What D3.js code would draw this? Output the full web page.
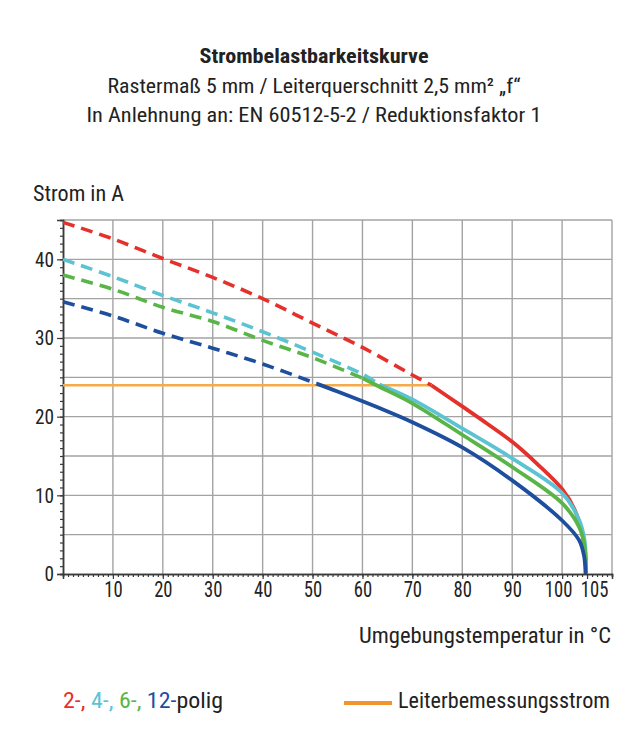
<!DOCTYPE html>
<html>
<head>
<meta charset="utf-8">
<script src="https://cdn.jsdelivr.net/npm/d3@7"></script>
<style>
  html, body { margin: 0; padding: 0; background: #fff; }
  svg { display: block; }
  text { font-family: "Liberation Sans Narrow", "Roboto Condensed", Roboto, "DejaVu Sans", sans-serif; fill: #222; }
</style>
</head>
<body>
<svg id="chart" width="642" height="754"></svg>
<script>
// ---- data ----
const titleLines = ["Strombelastbarkeitskurve",
  "Rastermaß 5 mm / Leiterquerschnitt 2,5 mm² „f“",
  "In Anlehnung an: EN 60512-5-2 / Reduktionsfaktor 1"];
const yLabel = "Strom in A";
const xLabel = "Umgebungstemperatur in °C";
const xTicks = [10, 20, 30, 40, 50, 60, 70, 80, 90, 100, 105];
const yTicks = [0, 10, 20, 30, 40];
const xGrid = [10, 20, 30, 40, 50, 60, 70, 80, 90, 100, 110];
const yGrid = [5, 10, 15, 20, 25, 30, 35, 40, 45];

const seriesNames = ["2-", "4-", "6-", "12-"];
const seriesColors = ["#e5312c", "#5cc3d3", "#5ab548", "#1d4f9e"];

// 2-polig
const red2DashT  = [0, 10, 20, 30, 40, 50, 60, 70, 73.8];
const red2DashI  = [44.7, 42.6, 40.1, 37.7, 35.0, 31.9, 28.8, 25.3, 24.0];
const red2SolidT = [73.8, 80, 85, 90, 95, 100, 102.5, 104, 104.6, 104.8];
const red2SolidI = [24.0, 21.3, 19.1, 16.8, 14.0, 10.8, 8.2, 5.2, 2.5, 0];
// 4-polig
const cyan4DashT  = [0, 10, 20, 30, 40, 50, 60, 63.4];
const cyan4DashI  = [40.0, 37.8, 35.4, 33.2, 30.8, 28.2, 25.4, 24.1];
const cyan4SolidT = [63.4, 70, 80, 90, 100, 103.4, 104.5, 104.8];
const cyan4SolidI = [24.1, 22.2, 18.5, 14.7, 10.3, 6.9, 4.3, 0];
// 6-polig
const green6DashT  = [0, 10, 20, 30, 40, 50, 60];
const green6DashI  = [38.0, 36.2, 33.9, 32.1, 29.7, 27.5, 24.9];
const green6SolidT = [60, 63.4, 70, 80, 90, 100, 103.4, 104.5, 104.8];
const green6SolidI = [24.9, 23.8, 21.7, 17.7, 13.6, 9.0, 6.0, 3.6, 0];
// 12-polig
const blue12DashT  = [0, 10, 20, 30, 40, 50.8];
const blue12DashI  = [34.6, 32.8, 30.6, 28.7, 26.7, 24.2];
const blue12SolidT = [50.8, 55, 63.4, 70, 80, 90, 100, 103.4, 104.4, 104.7];
const blue12SolidI = [24.2, 23.2, 21.1, 19.3, 16.1, 11.9, 6.8, 4.3, 2.3, 0];

// Leiterbemessungsstrom
const ratedT = [0, 73.8];
const ratedI = [24, 24];

const legendParts = ["2-,", " 4-,", " 6-,", " 12-", "polig"];
const legendRated = "Leiterbemessungsstrom";

// ---- chart ----
const svg = d3.select("#chart");
const x = d3.scaleLinear().domain([0, 110]).range([63, 612]);
const y = d3.scaleLinear().domain([0, 45]).range([574, 220]);

// titles
const titleY = [63, 93, 122];
const titleW = [229, 413, 455];
titleLines.forEach((t, i) => {
  svg.append("text").attr("x", 314).attr("y", titleY[i])
    .attr("text-anchor", "middle")
    .attr("font-size", 21)
    .attr("font-weight", i === 0 ? "bold" : "normal")
    .attr("textLength", titleW[i]).attr("lengthAdjust", "spacingAndGlyphs")
    .text(t);
});

// grid
const grid = svg.append("g").attr("stroke", "#a3a3a3").attr("stroke-width", 1.4);
grid.selectAll(".gx").data(xGrid).join("line")
  .attr("x1", d => x(d)).attr("x2", d => x(d)).attr("y1", y(0)).attr("y2", y(45));
grid.selectAll(".gy").data(yGrid).join("line")
  .attr("x1", x(0)).attr("x2", x(110)).attr("y1", d => y(d)).attr("y2", d => y(d));

// axes
const xMinor = svg.append("g").attr("transform", `translate(0,${y(0)})`)
  .call(d3.axisBottom(x).tickValues(d3.range(0, 111, 1)).tickSize(3).tickFormat(""));
const xMajor = svg.append("g").attr("transform", `translate(0,${y(0)})`)
  .call(d3.axisBottom(x).tickValues(xTicks).tickSize(5).tickPadding(0));
const yMinor = svg.append("g").attr("transform", `translate(${x(0)},0)`)
  .call(d3.axisLeft(y).tickValues(d3.range(0, 46, 1)).tickSize(3).tickFormat(""));
const yMajor = svg.append("g").attr("transform", `translate(${x(0)},0)`)
  .call(d3.axisLeft(y).tickValues(yTicks).tickSize(6).tickPadding(3));

[xMinor, xMajor, yMinor, yMajor].forEach(g => {
  g.select(".domain").attr("stroke", "#3a3a3a").attr("stroke-width", 1.5);
  g.selectAll(".tick line").attr("stroke", "#3a3a3a").attr("stroke-width", 1.2);
});
xMajor.selectAll(".tick text")
  .attr("font-size", 22).attr("fill", "#222").attr("dy", null).attr("y", 23)
  .attr("font-family", null)
  .attr("dx", d => d === 100 ? -4 : (d === 105 ? 7 : 0))
  .attr("textLength", d => String(d).length * 9.2)
  .attr("lengthAdjust", "spacingAndGlyphs");
yMajor.selectAll(".tick text")
  .attr("font-size", 21).attr("fill", "#222").attr("x", -9)
  .attr("font-family", null)
  .attr("textLength", d => String(d).length * 9.5)
  .attr("lengthAdjust", "spacingAndGlyphs");
svg.selectAll(".tick text").style("font-family", '"Liberation Sans Narrow", "Roboto Condensed", Roboto, sans-serif');

// axis labels
svg.append("text").attr("x", 33).attr("y", 201).attr("font-size", 22)
  .attr("textLength", 91).attr("lengthAdjust", "spacingAndGlyphs").text(yLabel);
svg.append("text").attr("x", 611).attr("y", 643).attr("font-size", 22)
  .attr("text-anchor", "end")
  .attr("textLength", 252).attr("lengthAdjust", "spacingAndGlyphs").text(xLabel);

// lines
const line = d3.line().x(d => x(d[0])).y(d => y(d[1])).curve(d3.curveCatmullRom.alpha(0.5));
const zip = (a, b) => a.map((v, i) => [v, b[i]]);

svg.append("path").datum(zip(ratedT, ratedI)).attr("d", line)
  .attr("fill", "none").attr("stroke", "#f7aa4a").attr("stroke-width", 2.6);

const dashSets = [
  [red2DashT, red2DashI], [cyan4DashT, cyan4DashI],
  [green6DashT, green6DashI], [blue12DashT, blue12DashI]];
const solidSets = [
  [red2SolidT, red2SolidI], [cyan4SolidT, cyan4SolidI],
  [green6SolidT, green6SolidI], [blue12SolidT, blue12SolidI]];

dashSets.forEach((s, i) => {
  svg.append("path").datum(zip(s[0], s[1])).attr("d", line)
    .attr("fill", "none").attr("stroke", seriesColors[i]).attr("stroke-width", 3.6)
    .attr("stroke-dasharray", "12,7");
});
solidSets.forEach((s, i) => {
  svg.append("path").datum(zip(s[0], s[1])).attr("d", line)
    .attr("fill", "none").attr("stroke", seriesColors[i]).attr("stroke-width", 3.8)
    .attr("stroke-linejoin", "round");
});

// legend
const lt = svg.append("text").attr("x", 63).attr("y", 708).attr("font-size", 22)
  .attr("textLength", 160).attr("lengthAdjust", "spacingAndGlyphs");
const legendColors = [...seriesColors, "#222"];
legendParts.forEach((p, i) => {
  lt.append("tspan").attr("fill", legendColors[i]).text(p);
});
svg.append("line").attr("x1", 344).attr("x2", 392).attr("y1", 703).attr("y2", 703)
  .attr("stroke", "#f39230").attr("stroke-width", 4);
svg.append("text").attr("x", 398).attr("y", 708).attr("font-size", 22)
  .attr("textLength", 212).attr("lengthAdjust", "spacingAndGlyphs").text(legendRated);
</script>
</body>
</html>
